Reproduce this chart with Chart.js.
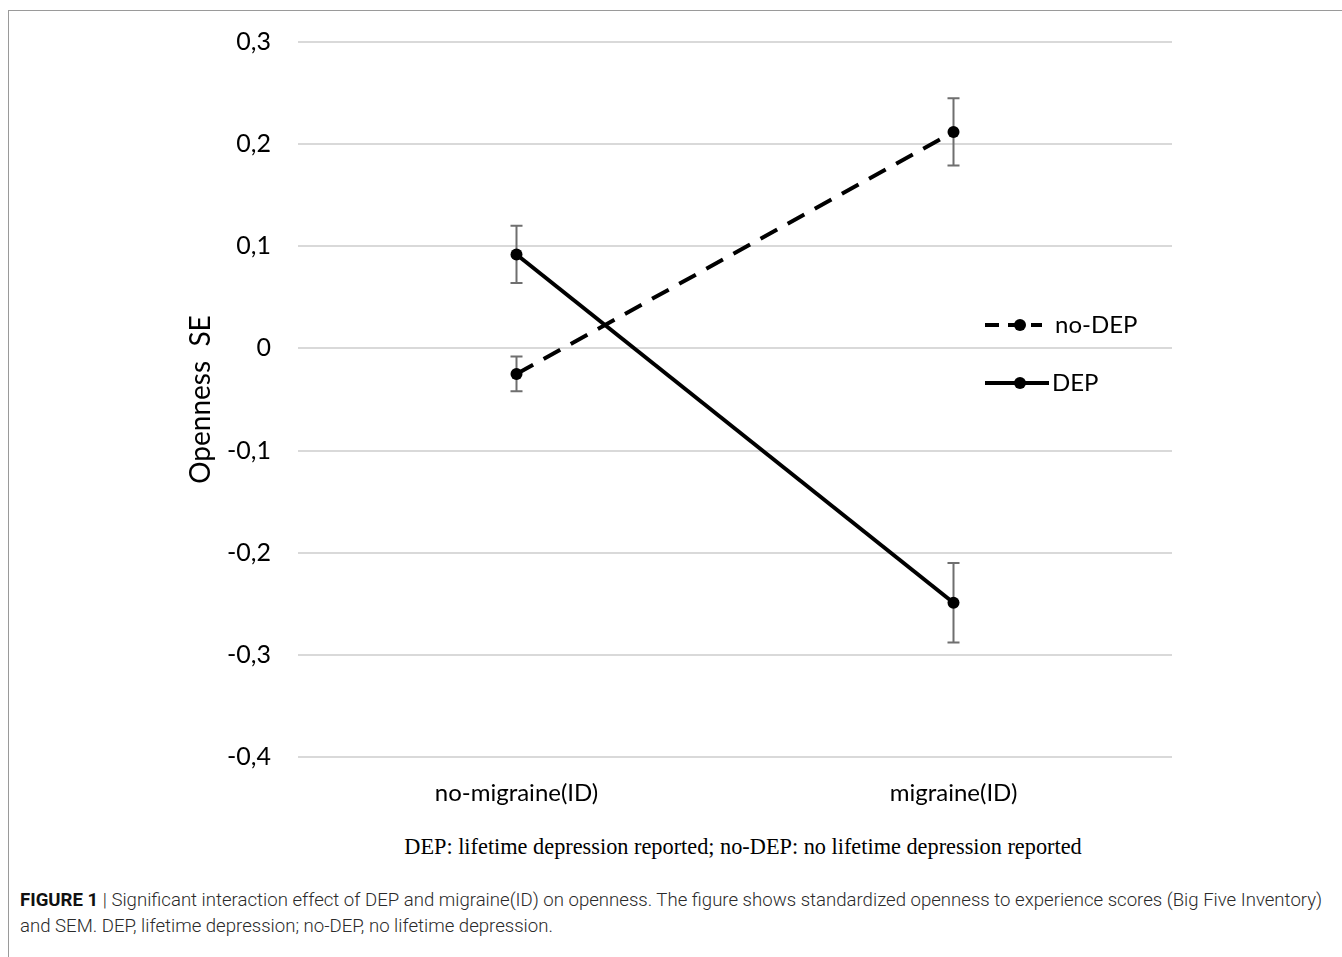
<!DOCTYPE html>
<html>
<head>
<meta charset="utf-8">
<script src="https://cdn.jsdelivr.net/npm/chart.js@4/dist/chart.umd.min.js"></script>
<style>
  html, body { margin: 0; padding: 0; background: #fff; width: 1342px; height: 957px; overflow: hidden; }
  #frame { position: absolute; left: 8px; top: 10px; width: 1400px; height: 1000px; border: 1.5px solid #9a9a9a; box-sizing: border-box; }
  #wrap { position: absolute; left: 0; top: 0; width: 1342px; height: 820px; }
  #note { position: absolute; left: 0; width: 1486px; top: 834px; text-align: center; font-family: "Liberation Serif", "DejaVu Serif", serif; font-size: 22.3px; color: #000; white-space: nowrap; }
  #caption { position: absolute; left: 20px; top: 887px; font-family: Roboto, "Liberation Sans", sans-serif; font-size: 18.6px; color: #2a2a2a; line-height: 26px; white-space: nowrap; font-weight: 300; }
  #caption b { font-weight: 700; color: #111; }
</style>
</head>
<body>
<div id="frame"></div>
<div id="wrap"><canvas id="c" width="1342" height="820"></canvas></div>
<div id="note">DEP: lifetime depression reported; no-DEP: no lifetime depression reported</div>
<div id="caption"><b>FIGURE 1</b> | Significant interaction effect of DEP and migraine(ID) on openness. The figure shows standardized openness to experience scores (Big Five Inventory)<br>and SEM. DEP, lifetime depression; no-DEP, no lifetime depression.</div>
<script>
const categories = ['no-migraine(ID)', 'migraine(ID)'];
const noDepValues = [-0.025, 0.212];
const noDepErrors = [0.017, 0.033];
const depValues = [0.092, -0.249];
const depErrors = [0.028, 0.039];
const yMin = -0.4;
const yMax = 0.3;
const yStep = 0.1;
const seriesNames = ['no-DEP', 'DEP'];
const yTitle = 'Openness  SE';

const FONT = 'Lato, "Open Sans", sans-serif';

function fmt(v) {
  if (Math.abs(v) < 1e-9) return '0';
  return v.toFixed(1).replace('.', ',');
}

const errorBars = {
  id: 'errorBars',
  beforeDatasetsDraw(chart) {
    const ctx = chart.ctx;
    const x = chart.scales.x, y = chart.scales.y;
    const sets = [[noDepValues, noDepErrors], [depValues, depErrors]];
    ctx.save();
    ctx.strokeStyle = '#6f6f6f';
    ctx.lineWidth = 2;
    sets.forEach(([vals, errs]) => {
      vals.forEach((v, i) => {
        const px = x.getPixelForValue(i);
        const top = y.getPixelForValue(v + errs[i]);
        const bot = y.getPixelForValue(v - errs[i]);
        ctx.beginPath();
        ctx.moveTo(px, top); ctx.lineTo(px, bot);
        ctx.moveTo(px - 6, top); ctx.lineTo(px + 6, top);
        ctx.moveTo(px - 6, bot); ctx.lineTo(px + 6, bot);
        ctx.stroke();
      });
    });
    ctx.restore();
  }
};

const customLegend = {
  id: 'customLegend',
  afterDraw(chart) {
    const ctx = chart.ctx;
    const a = chart.chartArea;
    const x0 = a.right - 187;
    const rows = [
      { name: seriesNames[0], y: a.top + 283, dash: [14, 9], x1: x0 + 57, tx: x0 + 70 },
      { name: seriesNames[1], y: a.top + 341, dash: [], x1: x0 + 64, tx: x0 + 67 }
    ];
    ctx.save();
    rows.forEach(r => {
      ctx.strokeStyle = '#000';
      ctx.lineWidth = 4;
      ctx.setLineDash(r.dash);
      ctx.beginPath();
      ctx.moveTo(x0, r.y); ctx.lineTo(r.x1, r.y);
      ctx.stroke();
      ctx.setLineDash([]);
      ctx.fillStyle = '#000';
      ctx.beginPath();
      ctx.arc(x0 + 35, r.y, 6, 0, Math.PI * 2);
      ctx.fill();
      ctx.font = '24px ' + FONT;
      ctx.textBaseline = 'middle';
      ctx.textAlign = 'left';
      ctx.fillText(r.name, r.tx, r.y);
    });
    ctx.restore();
  }
};

new Chart(document.getElementById('c'), {
  type: 'line',
  data: {
    labels: categories,
    datasets: [
      {
        label: seriesNames[0],
        data: noDepValues,
        borderColor: '#000',
        backgroundColor: '#000',
        borderWidth: 4,
        borderDash: [19, 12],
        pointRadius: 6,
        pointBackgroundColor: '#000',
        pointBorderWidth: 0,
        tension: 0,
        fill: false
      },
      {
        label: seriesNames[1],
        data: depValues,
        borderColor: '#000',
        backgroundColor: '#000',
        borderWidth: 4,
        pointRadius: 6,
        pointBackgroundColor: '#000',
        pointBorderWidth: 0,
        tension: 0,
        fill: false
      }
    ]
  },
  options: {
    responsive: false,
    animation: false,
    layout: { padding: { left: 0, top: 39, right: 170, bottom: 0 } },
    plugins: { legend: { display: false }, tooltip: { enabled: false } },
    scales: {
      x: {
        type: 'category',
        offset: true,
        grid: { display: false, drawTicks: false },
        border: { display: false },
        ticks: { font: { family: FONT, size: 24 }, color: '#000', padding: 22, maxRotation: 0 },
        afterFit(s) { s.height = 63; }
      },
      y: {
        min: yMin,
        max: yMax,
        grid: { color: '#d9d9d9', lineWidth: 2, drawTicks: false },
        border: { display: false },
        ticks: {
          stepSize: yStep,
          font: { family: FONT, size: 25 },
          color: '#000',
          padding: 27,
          callback: (v) => fmt(v)
        },
        title: {
          display: true,
          text: yTitle,
          font: { family: FONT, size: 28 },
          color: '#000',
          padding: { top: 184, bottom: 0 }
        },
        afterFit(s) { s.width = 298; }
      }
    }
  },
  plugins: [errorBars, customLegend]
});
</script>
</body>
</html>
